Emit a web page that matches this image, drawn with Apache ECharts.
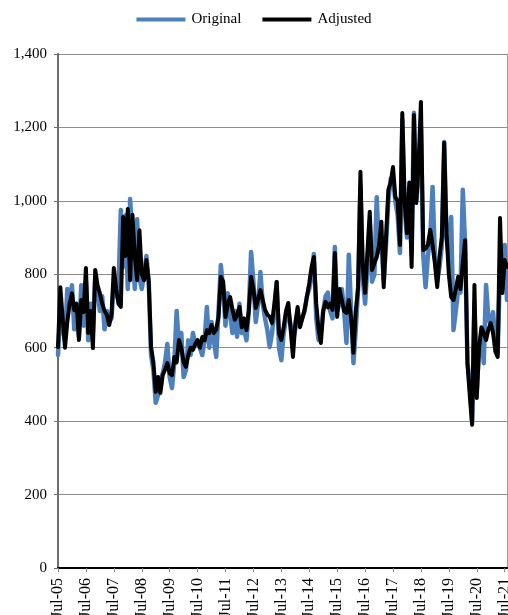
<!DOCTYPE html>
<html>
<head>
<meta charset="utf-8">
<script src="https://cdn.jsdelivr.net/npm/echarts@6/dist/echarts.min.js"></script>
<style>
html,body{margin:0;padding:0;background:#fff;}
#chart{width:508px;height:615px;}
</style>
</head>
<body>
<div id="chart"></div>
<script>
// Monthly series Jul-05 .. Aug-21
var startYear = 2005, startMonth = 6; // July (0-based)
var monthNames = ['Jan','Feb','Mar','Apr','May','Jun','Jul','Aug','Sep','Oct','Nov','Dec'];

var adjusted = [
  602,765,680,600,670,720,748,702,720,621,730,697,
  817,640,700,599,812,770,748,720,700,690,662,690,
  817,760,720,711,956,850,978,784,962,850,784,920,
  800,784,839,780,602,560,480,520,477,525,540,558,
  530,525,575,560,621,600,560,548,580,600,594,610,
  621,600,629,620,648,640,662,640,650,684,793,780,
  684,720,738,703,676,690,711,656,680,648,700,793,
  760,708,730,757,730,703,690,684,667,720,779,640,
  621,656,700,722,650,575,667,711,656,680,703,740,
  776,820,847,720,650,613,700,725,710,720,703,858,
  684,760,730,700,695,730,680,586,700,765,1079,820,
  749,860,970,812,830,847,880,943,765,900,1030,1050,
  1092,1010,1000,880,1239,1000,912,1050,820,1234,994,1100,
  1269,866,870,880,921,880,830,765,850,900,1158,912,
  800,738,730,760,793,760,830,893,558,470,390,771,
  463,600,656,640,621,650,667,640,590,575,953,749,839,820
];

var original = [
  580,700,650,620,760,720,770,650,700,630,770,660,
  780,620,720,640,790,760,700,740,650,700,670,680,
  780,740,760,975,820,960,760,1005,900,760,950,790,
  760,800,850,780,580,540,450,470,510,530,560,610,
  520,490,560,700,600,640,520,539,620,580,640,610,
  610,600,580,620,711,600,670,620,575,700,825,760,
  660,748,690,640,700,630,720,640,650,620,700,861,
  780,670,720,806,720,680,648,602,640,700,779,600,
  566,640,680,700,660,620,650,690,660,680,700,740,
  760,800,855,680,621,640,700,740,750,700,680,874,
  700,720,760,700,613,853,700,558,650,760,1040,790,
  720,820,940,780,800,1010,860,900,780,880,1000,1060,
  1060,1000,960,858,1220,980,900,1030,850,1240,1000,1080,
  1200,850,765,850,900,1038,850,780,820,880,1160,900,
  850,956,648,700,760,750,1030,880,560,500,400,720,
  480,600,640,558,771,680,660,697,620,586,820,760,880,730
];

var categories = [];
for (var i = 0; i < adjusted.length; i++) {
  var mm = startMonth + i;
  var y = startYear + Math.floor(mm / 12);
  categories.push(monthNames[mm % 12] + '-' + String(y % 100).padStart(2, '0'));
}

var yMin = 0, yMax = 1400, yStep = 200;
var font = '"Liberation Serif","Times New Roman",serif';

var chart = echarts.init(document.getElementById('chart'), null, {renderer: 'canvas'});
chart.setOption({
  animation: false,
  backgroundColor: '#fff',
  legend: {
    top: 7,
    left: 'center',
    itemWidth: 49,
    itemHeight: 4,
    itemGap: 21,
    icon: 'rect',
    textStyle: {fontFamily: font, fontSize: 15, color: '#000', padding: [0,0,0,1]},
    data: ['Original', 'Adjusted']
  },
  grid: {left: 58, right: 1, top: 54, bottom: 47, containLabel: false, outerBoundsMode: 'none'},
  xAxis: [{
    type: 'category',
    data: categories,
    boundaryGap: false,
    axisLine: {lineStyle: {color: '#8a8a8a', width: 1.5}},
    axisTick: {show: true, interval: 11, length: 4, lineStyle: {color: '#8a8a8a'}},
    axisLabel: {interval: 11, rotate: 90, margin: 10, fontFamily: font, fontSize: 16, color: '#000'},
    splitLine: {show: false}
  }, {
    type: 'category',
    data: categories,
    boundaryGap: false,
    position: 'top',
    axisLine: {lineStyle: {color: '#000', width: 2}},
    axisTick: {show: false},
    axisLabel: {show: false}
  }],
  yAxis: [{
    type: 'value',
    min: yMin, max: yMax, interval: yStep,
    axisLine: {show: true, lineStyle: {color: '#6e6e6e', width: 2}},
    axisTick: {show: true, length: 4, lineStyle: {color: '#6e6e6e'}},
    axisLabel: {
      margin: 11, fontFamily: font, fontSize: 15, color: '#000',
      formatter: function (v) { return v.toLocaleString('en-US'); }
    },
    splitLine: {show: true, lineStyle: {color: '#8c8c8c', width: 1.2}}
  }, {
    type: 'value',
    min: yMin, max: yMax, interval: yStep,
    position: 'right',
    axisLine: {show: true, lineStyle: {color: '#9a9a9a', width: 1}},
    axisTick: {show: false},
    axisLabel: {show: false},
    splitLine: {show: false}
  }],
  series: [{
    name: 'Original',
    type: 'line',
    data: original,
    showSymbol: false,
    symbol: 'none',
    color: '#4E80BD',
    lineStyle: {color: '#4E80BD', width: 4.5, join: 'round', cap: 'round'}
  }, {
    name: 'Adjusted',
    type: 'line',
    data: adjusted,
    showSymbol: false,
    symbol: 'none',
    color: '#000',
    lineStyle: {color: '#000', width: 4, join: 'round', cap: 'round'}
  }]
});
</script>
</body>
</html>
